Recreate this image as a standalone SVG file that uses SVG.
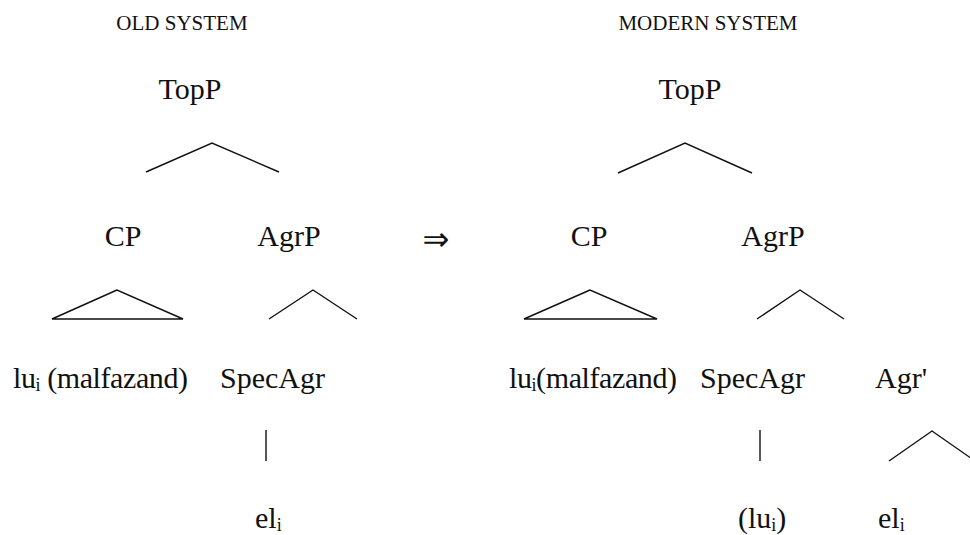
<svg xmlns="http://www.w3.org/2000/svg" width="970" height="535" viewBox="0 0 970 535">
  <style>
    text { font-family: "Liberation Serif", "DejaVu Serif", serif; fill: #111; }
    .head { font-size: 21px; text-anchor: middle; }
    .lbl { font-size: 30px; }
    .mid { text-anchor: middle; }
    .sub { font-size: 18px; }
    .arrow { font-family: "DejaVu Sans", sans-serif; font-size: 32px; text-anchor: middle; }
    .edge { fill: none; stroke: #111; stroke-width: 1.4; stroke-linejoin: miter; }
  </style>
  <rect width="970" height="535" fill="#fff"/>

  <!-- Column headings -->
  <text id="old-heading" class="head" x="182" y="30">OLD SYSTEM</text>
  <text id="modern-heading" class="head" x="708" y="30">MODERN SYSTEM</text>

  <!-- Branches -->
  <g id="connectors">
    <!-- old system -->
    <polyline class="edge" points="146,172 212,143 279,172"/>
    <polygon class="edge" points="117,290 52,319 183,319"/>
    <polyline class="edge" points="269,319 313,290 357,319"/>
    <line class="edge" x1="266" y1="430" x2="266" y2="461"/>
    <!-- modern system -->
    <polyline class="edge" points="618,173 685,143 752,173"/>
    <polygon class="edge" points="590,290 524,319 657,319"/>
    <polyline class="edge" points="757,319 800,290 844,319"/>
    <line class="edge" x1="760" y1="430" x2="760" y2="461"/>
    <polyline class="edge" points="889,461 932,431 975,461"/>
  </g>

  <!-- Old system tree -->
  <g id="old-topp"><text class="lbl mid" x="190" y="99">TopP</text></g>
  <g id="old-cp"><text class="lbl mid" x="123" y="246">CP</text></g>
  <g id="old-agrp"><text class="lbl mid" x="289" y="246">AgrP</text></g>
  <g id="old-lu"><text class="lbl" x="13" y="388" textLength="175">lu<tspan class="sub" dy="3">i</tspan><tspan dy="-3"> (malfazand)</tspan></text></g>
  <g id="old-specagr"><text class="lbl" x="220" y="388">SpecAgr</text></g>
  <g id="old-el"><text class="lbl" x="255" y="528">el<tspan class="sub" dy="3">i</tspan></text></g>

  <!-- Transition arrow -->
  <g id="arrow"><text class="arrow" x="436" y="250">⇒</text></g>

  <!-- Modern system tree -->
  <g id="new-topp"><text class="lbl mid" x="690" y="99">TopP</text></g>
  <g id="new-cp"><text class="lbl mid" x="589" y="246">CP</text></g>
  <g id="new-agrp"><text class="lbl mid" x="773" y="246">AgrP</text></g>
  <g id="new-lu"><text class="lbl" x="509" y="388" textLength="168">lu<tspan class="sub" dy="3">i</tspan><tspan dy="-3">(malfazand)</tspan></text></g>
  <g id="new-specagr"><text class="lbl" x="700" y="388">SpecAgr</text></g>
  <g id="new-agrbar"><text class="lbl" x="875" y="388">Agr'</text></g>
  <g id="new-lu-trace"><text class="lbl" x="738" y="528">(lu<tspan class="sub" dy="3">i</tspan><tspan dy="-3">)</tspan></text></g>
  <g id="new-el"><text class="lbl" x="878" y="528">el<tspan class="sub" dy="3">i</tspan></text></g>
</svg>
